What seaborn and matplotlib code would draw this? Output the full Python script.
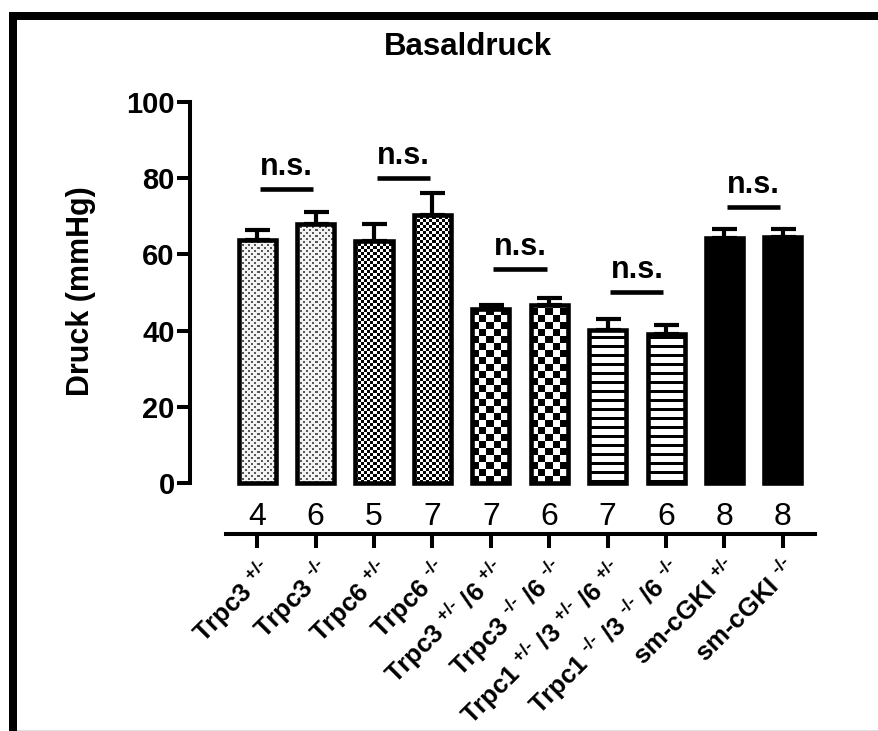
import numpy as np
import pandas as pd
import matplotlib
matplotlib.use("Agg")
import matplotlib.pyplot as plt
import seaborn as sns
from matplotlib.patches import Rectangle

# Basal pressure per genotype (mean, SEM, n)
genotypes = ["Trpc3 +/-", "Trpc3 -/-", "Trpc6 +/-", "Trpc6 -/-",
             "Trpc3 +/- /6 +/-", "Trpc3 -/- /6 -/-",
             "Trpc1 +/- /3 +/- /6 +/-", "Trpc1 -/- /3 -/- /6 -/-",
             "sm-cGKI +/-", "sm-cGKI -/-"]
het = r"$^{\text{+/-}}$"
ko = r"$^{\text{-/-}}$"
tick_labels = ["Trpc3 " + het, "Trpc3 " + ko,
               "Trpc6 " + het, "Trpc6 " + ko,
               "Trpc3 " + het + " /6 " + het, "Trpc3 " + ko + " /6 " + ko,
               "Trpc1 " + het + " /3 " + het + " /6 " + het,
               "Trpc1 " + ko + " /3 " + ko + " /6 " + ko,
               "sm-cGKI " + het, "sm-cGKI " + ko]
means = [63.7, 67.9, 63.4, 70.3, 45.6, 46.6, 40.1, 39.0, 64.2, 64.5]
sems = [2.7, 3.2, 4.6, 5.8, 1.1, 2.0, 2.9, 2.5, 2.5, 2.2]
n_animals = [4, 6, 5, 7, 7, 6, 7, 6, 8, 8]
patterns = ["dots", "dots", "fine", "fine", "coarse", "coarse",
            "stripes", "stripes", "solid", "solid"]
# pairs compared, bracket height (mmHg)
pairs = [(0, 1), (2, 3), (4, 5), (6, 7), (8, 9)]
ns_height = [77.2, 80.0, 56.2, 50.1, 72.4]

df = pd.DataFrame({"genotype": genotypes, "druck": means})

sns.set_style("white")
plt.rcParams["font.family"] = ["Liberation Sans", "DejaVu Sans"]
plt.rcParams["mathtext.fontset"] = "custom"
plt.rcParams["mathtext.rm"] = "Liberation Sans:bold"
plt.rcParams["mathtext.bf"] = "Liberation Sans:bold"
plt.rcParams["mathtext.it"] = "Liberation Sans:bold"
plt.rcParams["mathtext.default"] = "bf"
for k in ["text.color", "axes.labelcolor", "xtick.color", "ytick.color"]:
    plt.rcParams[k] = "black"

fig = plt.figure(figsize=(8.79, 7.31), dpi=100)
ax = fig.add_axes([190 / 879, 197 / 731, 625 / 879, 432 / 731])

sns.barplot(data=df, x="genotype", y="druck", order=genotypes, color="white",
            width=0.635, edgecolor="black", linewidth=3.3, ax=ax, zorder=3)
ax.set_xlim(-1.15, 9.55)
ax.set_ylim(-13.4, 100)

# pattern fills, clipped to each bar
def make_pattern(kind, h, w):
    i, j = np.indices((h, w))
    if kind == "dots":
        m = ((i % 6 < 2) & (j % 6 < 2)) | (((i + 3) % 6 < 2) & ((j + 3) % 6 < 2))
        return np.where(m, 0.35, 0.95)
    if kind == "fine":
        return np.where(((i // 3) + (j // 3)) % 2 == 0, 0.0, 1.0)
    if kind == "coarse":
        return np.where(((i // 7) + (j // 7)) % 2 == 0, 0.0, 1.0)
    if kind == "stripes":
        return np.where(i % 9 < 3, 0.0, 1.0)
    return np.zeros((h, w))

for patch, kind in zip(ax.patches, patterns):
    if kind == "solid":
        patch.set_facecolor("black")
        continue
    x0, y0 = patch.get_x(), patch.get_y()
    x1, y1 = x0 + patch.get_width(), y0 + patch.get_height()
    (px0, py0), (px1, py1) = ax.transData.transform([(x0, y0), (x1, y1)])
    h, w = int(round(py1 - py0)), int(round(px1 - px0))
    img = make_pattern(kind, h, w)
    im = ax.imshow(img, extent=[x0, x1, y0, y1], origin="lower", cmap="gray",
                   vmin=0, vmax=1, interpolation="nearest", aspect="auto", zorder=2)
    im.set_clip_path(patch)
    patch.set_facecolor("none")

ax.set_xlim(-1.15, 9.55)
ax.set_ylim(-13.4, 100)

# SEM, upward only
x = np.arange(len(means))
ax.errorbar(x, means, yerr=[np.zeros(len(sems)), sems], fmt="none",
            ecolor="black", elinewidth=3, capsize=9, capthick=3, zorder=4)

# n.s. brackets
for (a, b), hgt in zip(pairs, ns_height):
    mid = (a + b) / 2
    ax.plot([mid - 0.455, mid + 0.455], [hgt, hgt], color="black", lw=3.3,
            solid_capstyle="butt", clip_on=False)
    ax.annotate("n.s.", (mid, hgt), xytext=(0, 10), textcoords="offset points",
                ha="center", va="baseline", fontsize=22, fontweight="bold")

# group sizes
for xi, n in zip(x, n_animals):
    ax.text(xi, -8.0, str(n), ha="center", va="center_baseline", fontsize=23)

# axes styling
for s in ["top", "right"]:
    ax.spines[s].set_visible(False)
ax.spines["left"].set_bounds(0, 100)
ax.spines["bottom"].set_bounds(-0.53, 9.55)
for s in ["left", "bottom"]:
    ax.spines[s].set_linewidth(2.9)
    ax.spines[s].set_color("black")
ax.set_yticks([0, 20, 40, 60, 80, 100])
ax.set_xticks(x)
ax.set_xticklabels(tick_labels)
ax.tick_params(axis="y", length=9.5, width=2.9, direction="out", pad=1.5,
               labelsize=21, left=True)
ax.tick_params(axis="x", length=10, width=2.9, direction="out", pad=5,
               labelsize=18.5, bottom=True)
for lab in ax.get_yticklabels():
    lab.set_fontweight("bold")
for lab in ax.get_xticklabels():
    lab.set_fontweight("bold")
    lab.set_rotation(45)
    lab.set_ha("right")
    lab.set_rotation_mode("anchor")
ax.set_xlabel("")
ax.set_ylabel("")

fig.text(81 / 879, 1 - 291 / 731, "Druck (mmHg)", rotation=90, ha="center",
         va="center", fontsize=22, fontweight="bold")
fig.text(468 / 879, 1 - 47 / 731, "Basaldruck", ha="center", va="center",
         fontsize=22.5, fontweight="bold")

# black frame on top and left, thin grey line at the bottom
fig.add_artist(Rectangle((9 / 879, 711 / 731), 870 / 879, 8 / 731,
                         transform=fig.transFigure, color="black", lw=0))
fig.add_artist(Rectangle((9 / 879, 0), 8 / 879, 719 / 731,
                         transform=fig.transFigure, color="black", lw=0))
fig.add_artist(Rectangle((17 / 879, 0), 862 / 879, 1.5 / 731,
                         transform=fig.transFigure, color="#dddddd", lw=0))

fig.savefig("out.png", dpi=100)
